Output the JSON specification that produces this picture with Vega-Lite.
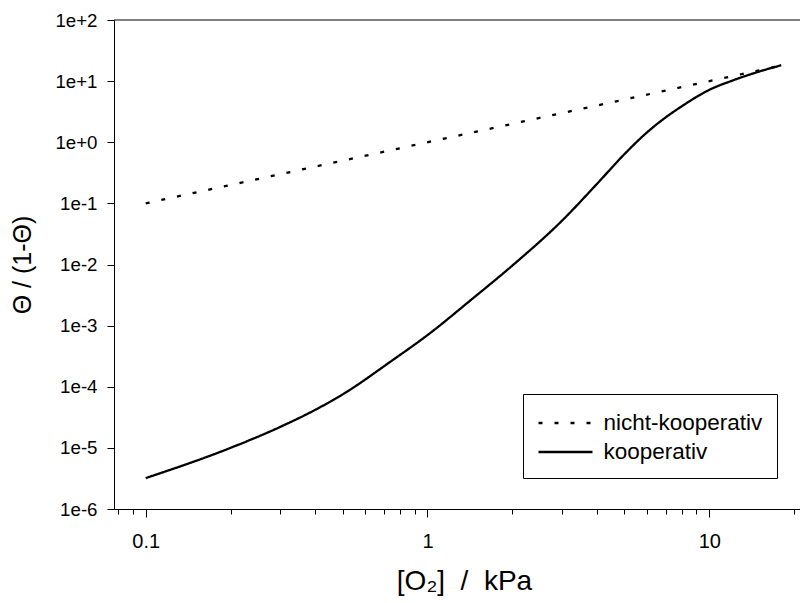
{
  "$schema": "https://vega.github.io/schema/vega-lite/v6.json",
  "width": 686,
  "height": 489,
  "autosize": {"type": "none"},
  "padding": {"left": 114, "top": 20, "right": 0, "bottom": 94},
  "background": "white",
  "config": {
    "font": "Liberation Sans",
    "view": {"stroke": null},
    "axis": {
      "grid": false,
      "domainColor": "black",
      "domainWidth": 1,
      "tickColor": "black",
      "tickWidth": 1,
      "labelColor": "black",
      "titleColor": "black",
      "labelFont": "Liberation Sans",
      "titleFont": "Liberation Sans",
      "titleFontWeight": "normal"
    }
  },
  "layer": [
    {
      "data": {
        "values": [
          {"series": "nicht-kooperativ", "p": 0.1, "ratio": 0.1},
          {"series": "nicht-kooperativ", "p": 18, "ratio": 18},
          {"series": "kooperativ", "p": 0.1, "ratio": 3.2e-6},
          {"series": "kooperativ", "p": 0.2, "ratio": 1.0e-5},
          {"series": "kooperativ", "p": 0.3, "ratio": 2.2e-5},
          {"series": "kooperativ", "p": 0.4, "ratio": 4.2e-5},
          {"series": "kooperativ", "p": 0.5, "ratio": 7.5e-5},
          {"series": "kooperativ", "p": 0.75, "ratio": 2.7e-4},
          {"series": "kooperativ", "p": 1, "ratio": 7.0e-4},
          {"series": "kooperativ", "p": 1.45, "ratio": 2.8e-3},
          {"series": "kooperativ", "p": 2, "ratio": 9.6e-3},
          {"series": "kooperativ", "p": 3, "ratio": 0.052},
          {"series": "kooperativ", "p": 4, "ratio": 0.21},
          {"series": "kooperativ", "p": 5, "ratio": 0.64},
          {"series": "kooperativ", "p": 6, "ratio": 1.44},
          {"series": "kooperativ", "p": 7, "ratio": 2.55},
          {"series": "kooperativ", "p": 8, "ratio": 3.9},
          {"series": "kooperativ", "p": 9, "ratio": 5.5},
          {"series": "kooperativ", "p": 10, "ratio": 7.2},
          {"series": "kooperativ", "p": 12, "ratio": 10.1},
          {"series": "kooperativ", "p": 15, "ratio": 14.3},
          {"series": "kooperativ", "p": 18, "ratio": 18.2}
        ]
      },
      "mark": {"type": "line", "color": "black", "strokeWidth": 2.3, "interpolate": "monotone", "clip": true},
      "encoding": {
        "x": {
          "field": "p",
          "type": "quantitative",
          "scale": {"type": "log", "domain": [0.0772, 20.98], "nice": false},
          "axis": {
            "title": "[O₂]\u00a0\u00a0/\u00a0\u00a0kPa",
            "titleFontSize": 28,
            "titleBaseline": "alphabetic",
            "titleAlign": "center",
            "titleX": 350,
            "titleY": 80,
            "values": [0.08, 0.09, 0.1, 0.2, 0.3, 0.4, 0.5, 0.6, 0.7, 0.8, 0.9, 1, 2, 3, 4, 5, 6, 7, 8, 9, 10, 20],
            "labelExpr": "datum.value == 0.1 ? '0.1' : datum.value == 1 ? '1' : datum.value == 10 ? '10' : ''",
            "labelFontSize": 20,
            "labelPadding": 14,
            "labelOverlap": false,
            "labelFlush": false,
            "tickSize": {"condition": {"test": "datum.value == 0.1 || datum.value == 1 || datum.value == 10", "value": 8}, "value": 5}
          }
        },
        "y": {
          "field": "ratio",
          "type": "quantitative",
          "scale": {"type": "log", "domain": [1e-6, 100], "nice": false},
          "axis": {
            "title": "Θ / (1-Θ)",
            "titleFontSize": 25,
            "titleBaseline": "middle",
            "titleX": -92,
            "titleY": 244.5,
            "values": [1e-6, 1e-5, 1e-4, 1e-3, 1e-2, 1e-1, 1, 10, 100],
            "format": ".0e",
            "labelFontSize": 18.7,
            "labelPadding": 10,
            "labelOverlap": false,
            "labelFlush": false,
            "tickSize": 7
          }
        },
        "strokeDash": {
          "field": "series",
          "type": "nominal",
          "scale": {"domain": ["nicht-kooperativ", "kooperativ"], "range": [[4, 12], [1, 0]]},
          "legend": {
            "title": null,
            "orient": "none",
            "legendX": 409,
            "legendY": 374,
            "strokeColor": "black",
            "fillColor": "white",
            "padding": 14,
            "labelFontSize": 22.5,
            "labelColor": "black",
            "labelOffset": 23,
            "symbolOffset": 13.5,
            "rowPadding": 2,
            "symbolType": "M-2,0H2",
            "symbolSize": 729,
            "symbolStrokeWidth": 2.3,
            "symbolStrokeColor": "black"
          }
        }
      }
    },
    {
      "data": {"values": [{}]},
      "mark": {"type": "rule", "color": "black", "strokeWidth": 1},
      "encoding": {"y": {"datum": 100}}
    }
  ]
}
